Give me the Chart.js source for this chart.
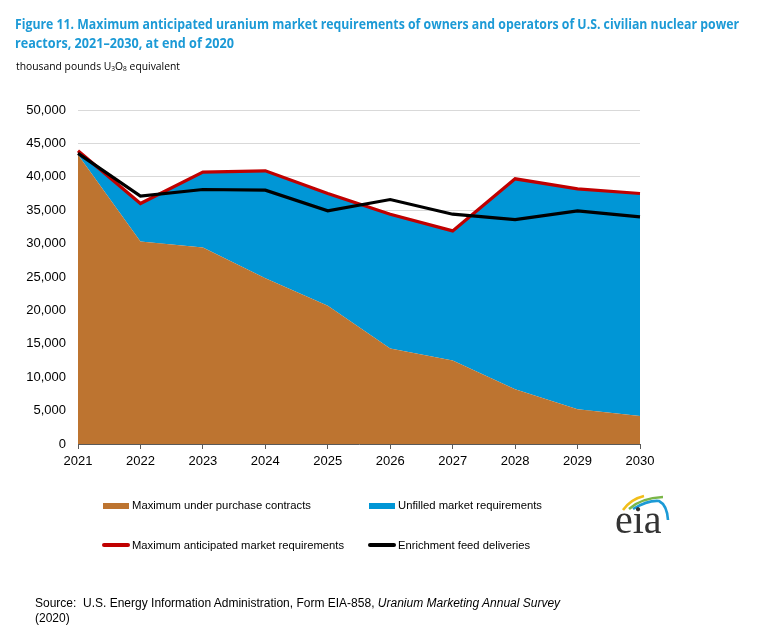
<!DOCTYPE html>
<html>
<head>
<meta charset="utf-8">
<script src="https://cdn.jsdelivr.net/npm/chart.js@4/dist/chart.umd.min.js"></script>
<style>
  html, body { margin:0; padding:0; background:#fff; }
  #wrap { position:relative; width:760px; height:635px; overflow:hidden; font-family:"Liberation Sans", Arial, sans-serif; }
  #c { position:absolute; left:0; top:0; }
  .t { position:absolute; white-space:nowrap; transform-origin:0 0; }
  #title1, #title2 { font-family:"Open Sans", "Noto Sans", sans-serif; font-weight:700; font-size:14px; color:#1C9AD6; }
  #title1 { left:15px; top:14px; }
  #title2 { left:15px; top:33px; }
  #sub { left:16px; top:58px; font-family:"Open Sans", "Noto Sans", sans-serif; font-size:11px; color:#000; }
  #sub sub { font-size:7px; vertical-align:-1px; }
  .leg { position:absolute; font-size:11.5px; color:#000; white-space:nowrap; line-height:14px; transform-origin:0 0; }
  .sw { position:absolute; }
  #src { left:35px; top:596px; font-size:12px; color:#000; line-height:15px; white-space:normal; width:560px; }
</style>
</head>
<body>
<div id="wrap">
  <canvas id="c" width="760" height="635"></canvas>
  <div class="t" id="title1">Figure 11. Maximum anticipated uranium market requirements of owners and operators of U.S. civilian nuclear power</div>
  <div class="t" id="title2">reactors, 2021–2030, at end of 2020</div>
  <div class="t" id="sub">thousand pounds U<sub>3</sub>O<sub>8</sub> equivalent</div>

  <div class="sw" style="left:103px;top:503px;width:26px;height:6px;background:#BD7430;"></div>
  <div class="leg" id="l1" style="left:132px;top:498px;">Maximum under purchase contracts</div>
  <div class="sw" style="left:369px;top:503px;width:26px;height:6px;background:#0096D6;"></div>
  <div class="leg" id="l2" style="left:398px;top:498px;">Unfilled market requirements</div>
  <div class="sw" style="left:102px;top:543px;width:28px;height:3.5px;background:#C00000;border-radius:2px;"></div>
  <div class="leg" id="l3" style="left:132px;top:538px;">Maximum anticipated market requirements</div>
  <div class="sw" style="left:368px;top:543px;width:28px;height:3.5px;background:#000;border-radius:2px;"></div>
  <div class="leg" id="l4" style="left:398px;top:538px;">Enrichment feed deliveries</div>

  <svg style="position:absolute;left:600px;top:480px;" width="90" height="70" viewBox="0 0 90 70">
    <path d="M23 30 Q31 19 44 16" stroke="#F2BE1A" stroke-width="2.6" fill="none"/>
    <path d="M29 29 Q41 18 63 17" stroke="#7AB648" stroke-width="2.4" fill="none"/>
    <path d="M33 29 Q48 20 59 21 Q67 25 68 40" stroke="#1C9AD6" stroke-width="2.6" fill="none"/>
    <text x="15" y="53" font-family="'Liberation Serif','DejaVu Serif',serif" font-size="40" fill="#333">eia</text>
  </svg>

  <div class="t" id="src">Source:&nbsp; U.S. Energy Information Administration, Form EIA-858, <i>Uranium Marketing Annual Survey</i> (2020)</div>
</div>
<script>
const years = ['2021','2022','2023','2024','2025','2026','2027','2028','2029','2030'];
const purchaseContracts = [43300, 30300, 29400, 24800, 20700, 14300, 12500, 8200, 5200, 4200];
const maxRequirements   = [43900, 36000, 40700, 40900, 37500, 34400, 31900, 39700, 38200, 37500];
const enrichmentFeed    = [43500, 37100, 38100, 38000, 34900, 36600, 34400, 33600, 34900, 34000];
const unfilled = maxRequirements.map((v, i) => v - purchaseContracts[i]);

function fit(id, w) {
  const el = document.getElementById(id);
  const cw = el.getBoundingClientRect().width;
  el.style.transform = 'scaleX(' + (w / cw) + ')';
}
fit('title1', 724);
fit('title2', 219);
fit('sub', 164);
fit('l1', 179);
fit('l2', 144);
fit('l3', 212);
fit('l4', 132);

new Chart(document.getElementById('c'), {
  type: 'line',
  data: {
    labels: years,
    datasets: [
      { label: 'Enrichment feed deliveries', data: enrichmentFeed, borderColor: '#000000', borderWidth: 3.2, pointRadius: 0, fill: false, stack: 'feed', tension: 0 },
      { label: 'Maximum anticipated market requirements', data: maxRequirements, borderColor: '#C00000', borderWidth: 3.2, pointRadius: 0, fill: false, stack: 'req', tension: 0 },
      { label: 'Maximum under purchase contracts', data: purchaseContracts, borderColor: '#BD7430', backgroundColor: '#BD7430', borderWidth: 0, pointRadius: 0, fill: 'origin', stack: 'area', tension: 0 },
      { label: 'Unfilled market requirements', data: unfilled, borderColor: '#0096D6', backgroundColor: '#0096D6', borderWidth: 0, pointRadius: 0, fill: '-1', stack: 'area', tension: 0 }
    ]
  },
  options: {
    responsive: false,
    animation: false,
    events: [],
    layout: { padding: { left: 18, right: 120, top: 110, bottom: 161 } },
    plugins: { legend: { display: false }, tooltip: { enabled: false } },
    scales: {
      x: {
        offset: false,
        grid: { display: true, drawOnChartArea: false, drawTicks: true, tickLength: 5, color: '#595959' },
        border: { display: true, color: '#595959', width: 1 },
        ticks: { color: '#000', font: { family: 'Liberation Sans', size: 13 }, padding: 5, maxRotation: 0, autoSkip: false },
        afterFit: (s) => { s.height = 30; }
      },
      y: {
        stacked: true,
        min: 0, max: 50000,
        grid: { color: '#D9D9D9', lineWidth: 1, drawTicks: false },
        border: { display: false },
        ticks: { stepSize: 5000, color: '#000', font: { family: 'Liberation Sans', size: 13 }, padding: 12,
          callback: (v) => v.toLocaleString('en-US') },
        afterFit: (s) => { s.width = 60; }
      }
    }
  }
});
</script>
</body>
</html>
